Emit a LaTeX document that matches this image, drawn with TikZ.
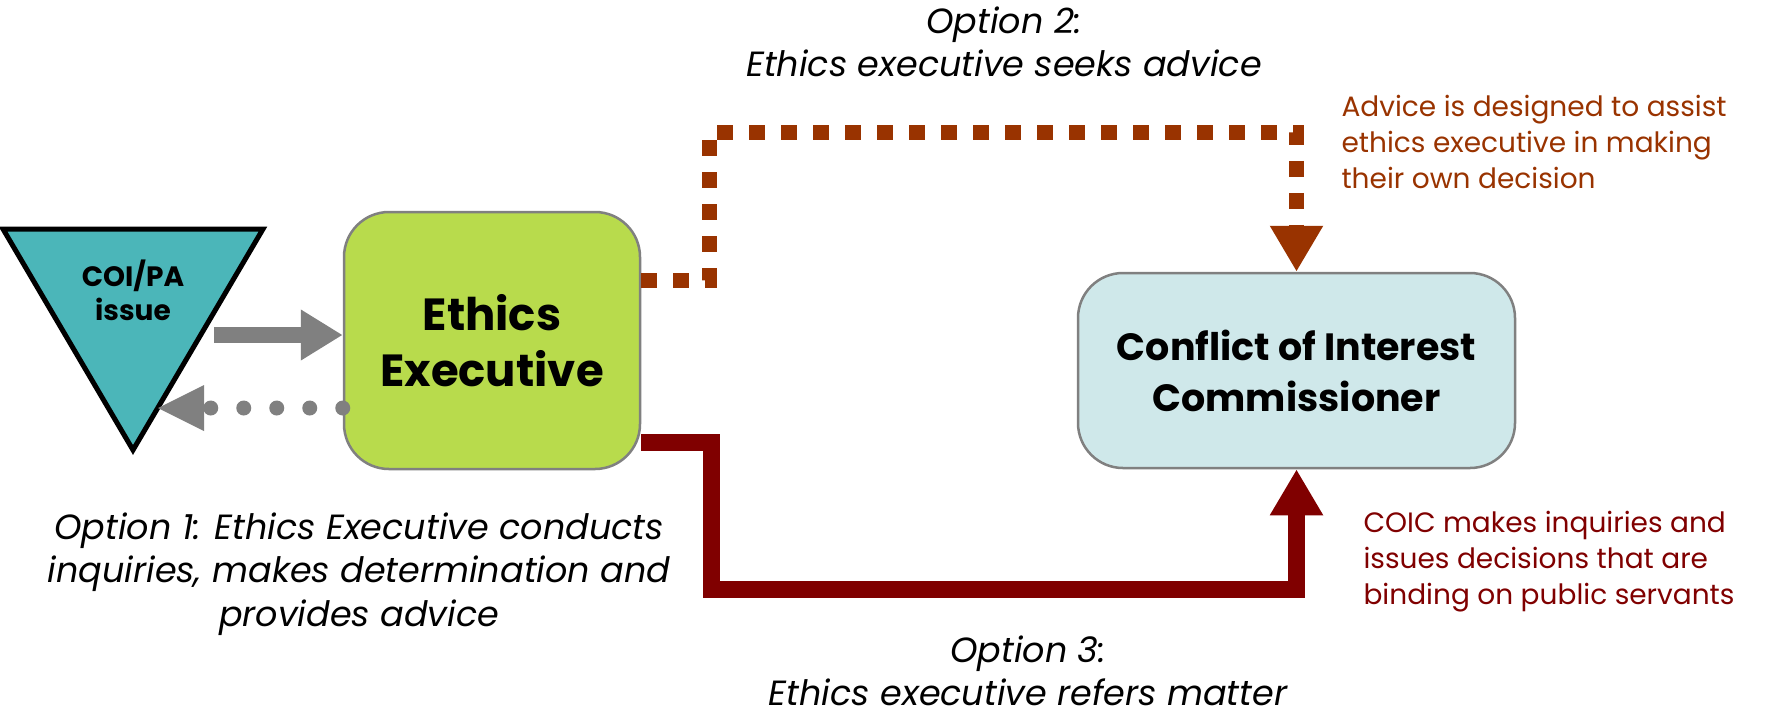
\documentclass[tikz,border=0pt]{standalone}
\usepackage{fontspec}
\setmainfont{Poppins}
\usetikzlibrary{arrows.meta,shapes.geometric}
\definecolor{teal1}{HTML}{4BB6B9}
\definecolor{lime1}{HTML}{B8DB4C}
\definecolor{ice1}{HTML}{CFE8EA}
\definecolor{brown1}{HTML}{993300}
\definecolor{red1}{HTML}{800000}
\definecolor{gray1}{HTML}{808080}
\tikzset{
  box/.style={draw=gray1, line width=2.5pt, rounded corners=45pt, align=center, font=\bfseries},
  optlabel/.style={align=center, font=\itshape\fontsize{35}{43.5}\selectfont},
  notelabel/.style={align=left, anchor=north west, font=\fontsize{28}{36}\selectfont},
  brownline/.style={draw=brown1, line width=15pt, dash pattern=on 16pt off 16pt},
  redline/.style={draw=red1, line width=17pt},
}
\begin{document}
\begin{tikzpicture}[x=1pt,y=-1pt]
\useasboundingbox (0,0) rectangle (1768,716);
% triangle
\draw[line width=5pt, fill=teal1, line join=miter] (3,229) -- (263,229) -- (133,450) -- cycle;
\node[align=center, font=\bfseries\fontsize{28}{34}\selectfont] (coi) at (133,290) {COI/PA\\issue};
% boxes
\node[box, fill=lime1, minimum width=296pt, minimum height=257pt, font=\bfseries\fontsize{45}{56}\selectfont] (ee) at (492,340.5) {Ethics\\Executive};
\node[box, fill=ice1, minimum width=437pt, minimum height=195pt, font=\bfseries\fontsize{38}{51}\selectfont] (coic) at (1296.5,370.5) {Conflict of Interest\\Commissioner};
% gray arrows
\coordinate (gs) at (214,335);
\draw[gray1, line width=16pt, -{Triangle[length=42pt,width=48pt]}] (gs) -- (gs -| ee.west);
\coordinate (gt) at (158,408);
\draw[gray1, line width=15pt, line cap=round, dash pattern=on 0pt off 33pt] (gt -| ee.west) -- ([xshift=48pt]gt);
\fill[gray1] (gt) -- ++(46,-23) -- ++(0,46) -- cycle;
% option 2 dotted
\coordinate (b1) at (ee.east |- 0,280);
\draw[brownline, -{Triangle[length=46pt,width=50pt]}] (b1) -- (709,280) -- (709,132) -- (1296.5,132) -- (coic.north);
% option 3 solid
\coordinate (r1) at (ee.east |- 0,442);
\draw[redline, line join=miter, -{Triangle[length=46pt,width=50pt]}] (r1) -- (711,442) -- (711,589) -- (1296.5,589) -- (coic.south);
% labels
\node[optlabel] (o2) at (1004,42) {Option 2:\\Ethics executive seeks advice};
\node[optlabel] (o1) at (359,574) {Option 1: Ethics Executive conducts\\inquiries, makes determination and\\provides advice};
\node[optlabel] (o3) at (1028,671) {Option 3:\\Ethics executive refers matter};
\node[notelabel, text=brown1] (n2) at (1338,92) {Advice is designed to assist\\ethics executive in making\\their own decision};
\node[notelabel, text=red1] (n3) at (1360,508) {\fontsize{28}{40}\selectfont COIC makes inquiries and\\issues decisions that are\\binding on public servants};
\end{tikzpicture}
\end{document}
